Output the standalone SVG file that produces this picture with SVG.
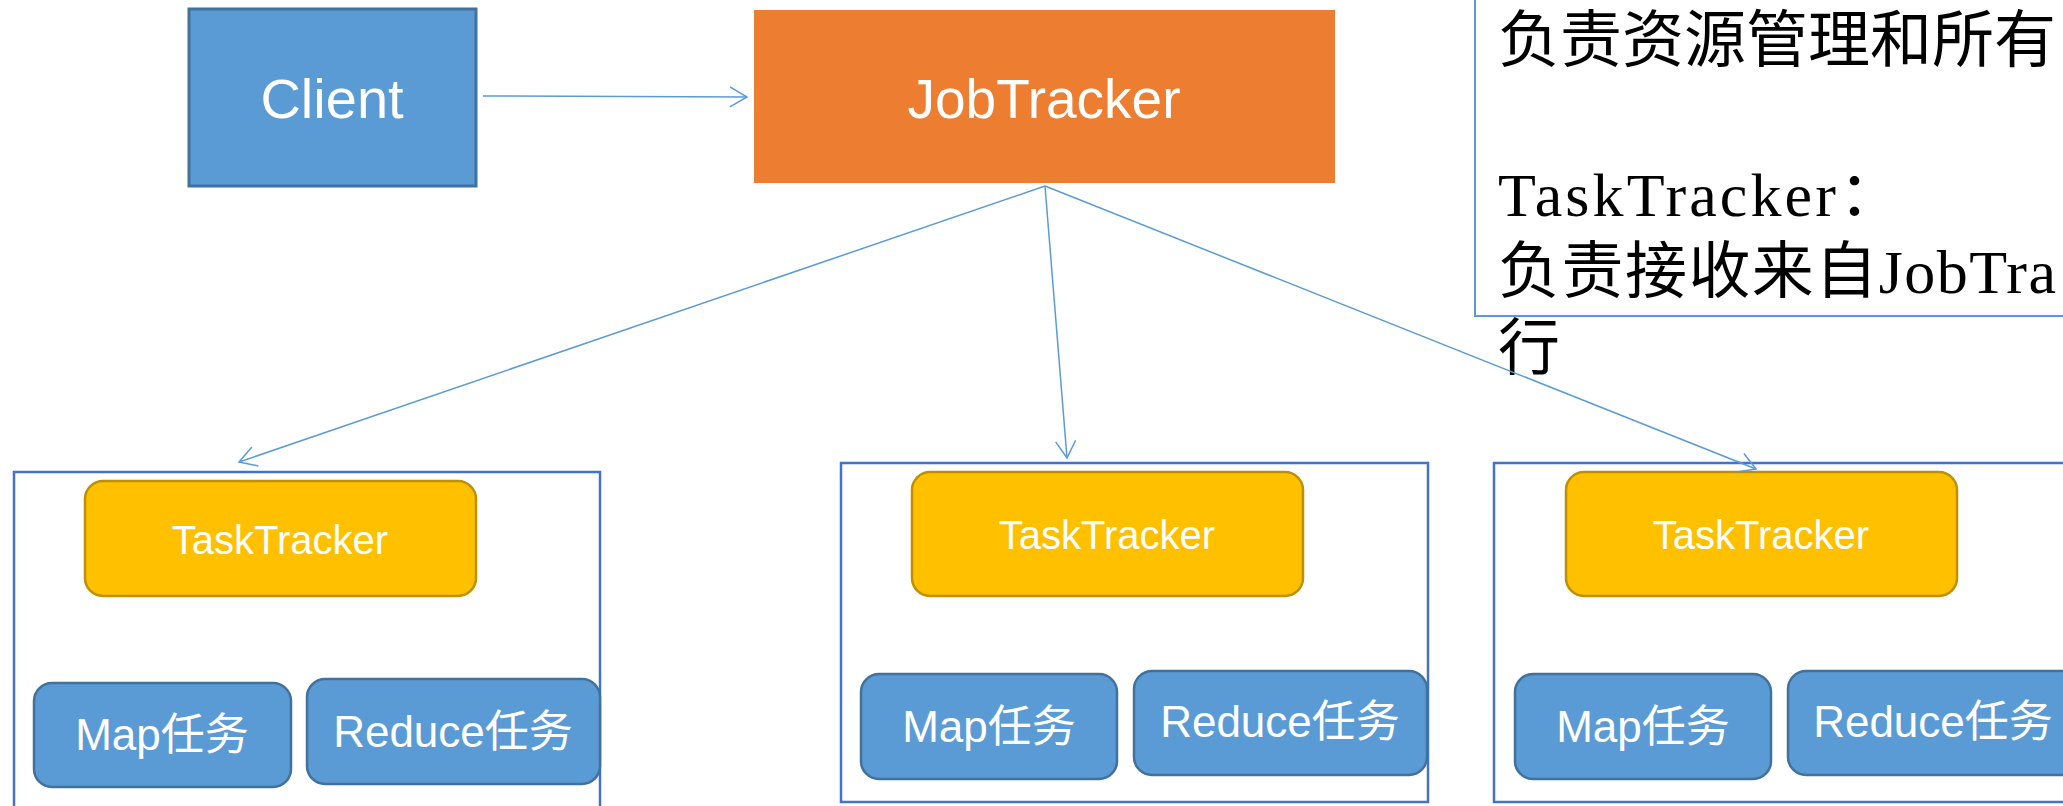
<svg xmlns="http://www.w3.org/2000/svg" width="2063" height="806" viewBox="0 0 2063 806">
<style>
.blue{fill:#5B9BD5;stroke:#41719C;stroke-width:2.5}
.tt{fill:#FFC000;stroke:#BF9000;stroke-width:2.5}
.cont{fill:none;stroke:#4472C4;stroke-width:2.5}
.lbl{fill:#FFFFFF;font-family:"Liberation Sans","Noto Sans CJK SC",sans-serif;text-anchor:middle}
.note{fill:#000000;font-family:"Liberation Serif","Noto Sans CJK SC",serif;font-size:62px}
.conn{fill:none;stroke:#5B9BD5;stroke-width:1.5}
</style>
<defs>
<marker id="arr" markerUnits="userSpaceOnUse" markerWidth="22" markerHeight="24" refX="19" refY="12" orient="auto" overflow="visible">
<path d="M2,2 L19,12 L2,22" fill="none" stroke="#5B9BD5" stroke-width="1.5"/>
</marker>
</defs>
<rect width="2063" height="806" fill="#FFFFFF"/>

<g id="note">
<rect x="1475" y="-10" width="640" height="326" fill="none" stroke="#5B9BD5" stroke-width="2"/>
<text class="note" x="1498" y="62">负责资源管理和所有</text>
<text class="note" x="1498" y="216" textLength="403" lengthAdjust="spacing">TaskTracker：</text>
<text class="note" x="1498" y="293" textLength="558" lengthAdjust="spacing">负责接收来自JobTra</text>
<text class="note" x="1498" y="370">行</text>
</g>

<g id="client">
<rect class="blue" x="189" y="9" width="287" height="177" style="fill:#5B9BD5;stroke:#41719C;stroke-width:3"/>
<text class="lbl" x="332" y="118" font-size="56">Client</text>
</g>

<g id="jobtracker">
<rect x="754" y="10" width="581" height="173" fill="#ED7D31"/>
<text class="lbl" x="1044" y="118" font-size="55">JobTracker</text>
</g>

<g id="node1">
<rect class="cont" x="14" y="472" width="586" height="360"/>
<g id="tt1">
<rect class="tt" x="85" y="481" width="391" height="115" rx="18"/>
<text class="lbl" x="280" y="554" font-size="40">TaskTracker</text>
</g>
<g id="map1">
<rect class="blue" x="34" y="683" width="257" height="104" rx="18"/>
<text class="lbl" x="162" y="750" font-size="44">Map任务</text>
</g>
<g id="reduce1">
<rect class="blue" x="307" y="679" width="293" height="105" rx="18"/>
<text class="lbl" x="453" y="747" font-size="44">Reduce任务</text>
</g>
</g>

<g id="node2">
<rect class="cont" x="841" y="463" width="587" height="339"/>
<g id="tt2">
<rect class="tt" x="912" y="472" width="391" height="124" rx="18"/>
<text class="lbl" x="1107" y="549" font-size="40">TaskTracker</text>
</g>
<g id="map2">
<rect class="blue" x="861" y="674" width="256" height="105" rx="18"/>
<text class="lbl" x="989" y="742" font-size="44">Map任务</text>
</g>
<g id="reduce2">
<rect class="blue" x="1134" y="671" width="293" height="104" rx="18"/>
<text class="lbl" x="1280" y="737" font-size="44">Reduce任务</text>
</g>
</g>

<g id="node3">
<rect class="cont" x="1494" y="463" width="620" height="339"/>
<g id="tt3">
<rect class="tt" x="1566" y="472" width="391" height="124" rx="18"/>
<text class="lbl" x="1761" y="549" font-size="40">TaskTracker</text>
</g>
<g id="map3">
<rect class="blue" x="1515" y="674" width="256" height="105" rx="18"/>
<text class="lbl" x="1643" y="742" font-size="44">Map任务</text>
</g>
<g id="reduce3">
<rect class="blue" x="1788" y="671" width="293" height="104" rx="18"/>
<text class="lbl" x="1933" y="737" font-size="44">Reduce任务</text>
</g>
</g>

<g id="connectors">
<line class="conn" x1="483" y1="96" x2="747" y2="97" marker-end="url(#arr)"/>
<line class="conn" x1="1045" y1="186" x2="239" y2="462" marker-end="url(#arr)"/>
<line class="conn" x1="1045" y1="186" x2="1067" y2="458" marker-end="url(#arr)"/>
<line class="conn" x1="1045" y1="186" x2="1756" y2="469" marker-end="url(#arr)"/>
</g>
</svg>
